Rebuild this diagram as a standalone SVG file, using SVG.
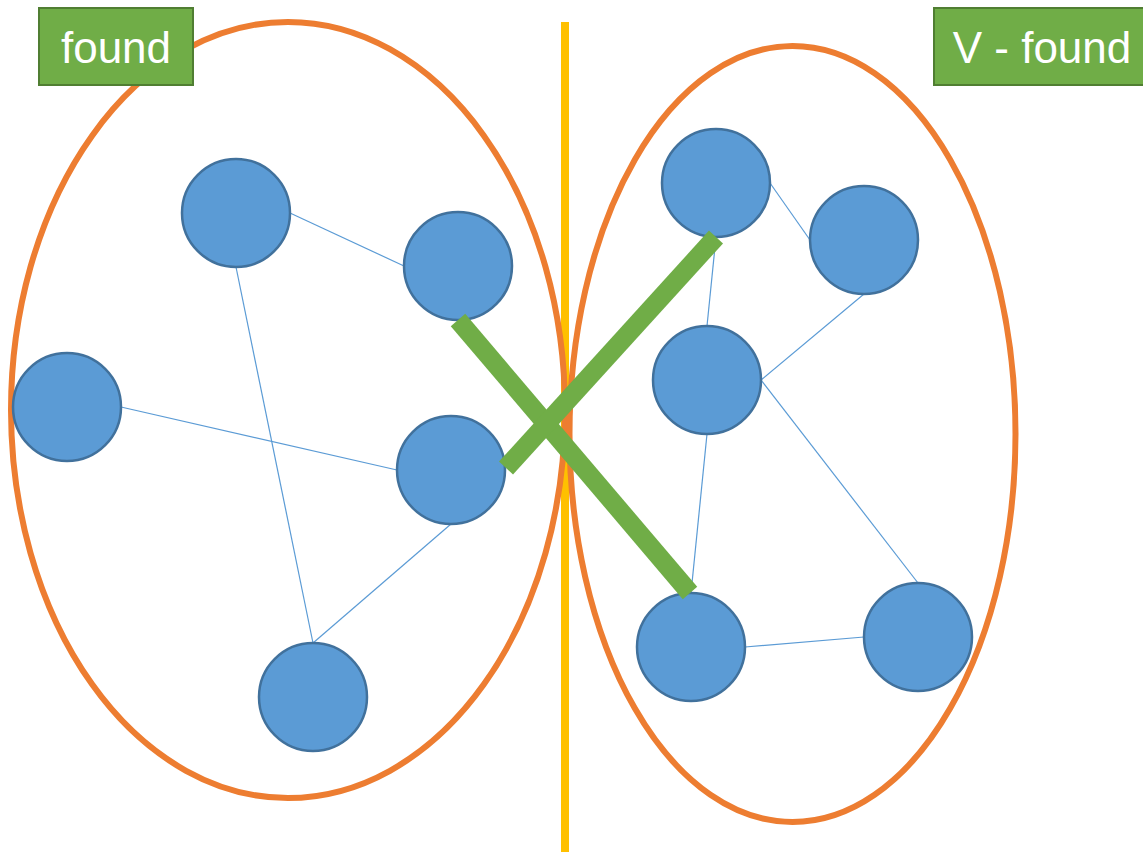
<svg xmlns="http://www.w3.org/2000/svg" width="1143" height="852" viewBox="0 0 1143 852">
<style>
.node{fill:#5B9BD5;stroke:#41719C;stroke-width:2.5}
.edge{stroke:#5B9BD5;stroke-width:1.2;fill:none}
.set{fill:none;stroke:#ED7D31;stroke-width:6}
.cut{stroke:#70AD47;stroke-width:19;stroke-linecap:butt}
.lbl rect{fill:#70AD47;stroke:#507E32;stroke-width:2}
.lbl text{fill:#fff;font-family:"Liberation Sans",Arial,sans-serif;font-size:44px;text-anchor:middle}
</style>
<rect width="1143" height="852" fill="#fff"/>
<line id="divider" x1="565" y1="22" x2="565" y2="852" stroke="#FFC000" stroke-width="8"/>
<g id="sets">
<ellipse id="set-found" class="set" cx="288" cy="410" rx="277" ry="388"/>
<ellipse id="set-vfound" class="set" cx="792.5" cy="434" rx="223" ry="388"/>
</g>
<g id="edges">
<line class="edge" x1="290" y1="213" x2="404" y2="266"/>
<line class="edge" x1="236" y1="267" x2="313" y2="643"/>
<line class="edge" x1="121" y1="407" x2="397" y2="470"/>
<line class="edge" x1="451" y1="524" x2="313" y2="643"/>
<line class="edge" x1="770" y1="183" x2="810" y2="240"/>
<line class="edge" x1="716" y1="237" x2="707" y2="326"/>
<line class="edge" x1="864" y1="294" x2="761" y2="380"/>
<line class="edge" x1="761" y1="380" x2="918" y2="583"/>
<line class="edge" x1="707" y1="434" x2="691" y2="593"/>
<line class="edge" x1="745" y1="647" x2="864" y2="637"/>
</g>
<g id="n1"><circle class="node" cx="236" cy="213" r="54"/></g>
<g id="n2"><circle class="node" cx="458" cy="266" r="54"/></g>
<g id="n3"><circle class="node" cx="67" cy="407" r="54"/></g>
<g id="n4"><circle class="node" cx="451" cy="470" r="54"/></g>
<g id="n5"><circle class="node" cx="313" cy="697" r="54"/></g>
<g id="n6"><circle class="node" cx="716" cy="183" r="54"/></g>
<g id="n7"><circle class="node" cx="864" cy="240" r="54"/></g>
<g id="n8"><circle class="node" cx="707" cy="380" r="54"/></g>
<g id="n9"><circle class="node" cx="691" cy="647" r="54"/></g>
<g id="n10"><circle class="node" cx="918" cy="637" r="54"/></g>
<g id="cut-edges">
<line class="cut" x1="458" y1="320" x2="690" y2="593"/>
<line class="cut" x1="716" y1="237" x2="506" y2="468"/>
</g>
<g id="label-found" class="lbl"><rect x="39" y="8" width="154" height="77"/><text x="116" y="63">found</text></g>
<g id="label-vfound" class="lbl"><rect x="934" y="8" width="215" height="77"/><text x="1042" y="63">V - found</text></g>
</svg>
